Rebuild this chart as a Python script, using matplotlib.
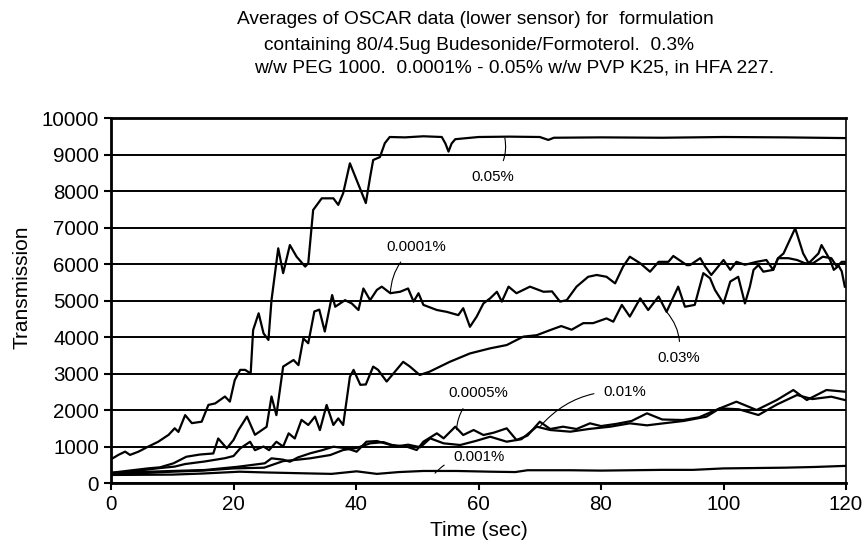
import matplotlib
matplotlib.use("Agg")
import matplotlib.pyplot as plt

# ── Data ──────────────────────────────────────────────────────────────────────
t_005 = [0, 1.2, 2.3, 3.1, 4.5, 6.1, 7.7, 9.4, 10.4, 11.0, 12.1, 13.2, 14.8, 15.9,
         17.0, 18.6, 19.4, 20.2, 21.1, 21.9, 22.8, 23.2, 24.1, 24.9, 25.7, 26.2,
         27.3, 28.1, 29.2, 30.3, 31.7, 32.2, 33.0, 34.4, 36.3, 37.1, 37.9, 39.0,
         40.1, 41.2, 41.6, 42.3, 42.8, 43.9, 44.7, 45.5, 48, 51, 54, 54.6, 55.1,
         55.6, 56.2, 60, 65, 70, 71.4, 72.3, 80, 90, 100, 110, 120]
v_005 = [650, 770, 860, 770, 860, 1000, 1130, 1320, 1500, 1400, 1860, 1640, 1680, 2140,
         2180, 2370, 2230, 2820, 3100, 3100, 3000, 4190, 4650, 4100, 3920, 5010,
         6430, 5750, 6520, 6200, 5930, 6020, 7480, 7800, 7800, 7620, 7940, 8760,
         8300, 7840, 7670, 8380, 8850, 8930, 9310, 9480, 9470, 9500, 9480, 9300, 9080,
         9300, 9420, 9480, 9490, 9480, 9400, 9460, 9470, 9460, 9480, 9470, 9450]

t_00001 = [0, 2, 4, 6, 8, 10.2, 12.3, 14.5, 16.7, 17.5, 18.9, 20.0, 20.8, 22.2, 23.5,
           25.4, 26.2, 27.0, 28.1, 29.8, 30.6, 31.4, 32.2, 33.2, 34.0, 34.9, 35.5,
           36.1, 36.6, 38.2, 39.3, 40.4, 41.2, 42.3, 43.4, 44.2, 45.6, 47.2, 48.5,
           49.4, 50.2, 51.0, 53.2, 54.8, 56.7, 57.5, 58.6, 59.7, 60.8, 61.9, 63.0,
           63.8, 64.9, 66.2, 68.4, 70.6, 72.0, 73.3, 74.4, 76.0, 77.9, 79.3, 80.9,
           82.3, 83.6, 84.7, 86.4, 88.0, 89.4, 91.0, 91.8, 94.0, 94.5, 96.2, 97.0,
           98.0, 100.0, 101.1, 102.1, 103.5, 105.4, 107.0, 108.1, 108.9, 110.6,
           112.0, 113.3, 114.6, 116.2, 117.6, 118.5, 119.3, 120]
v_00001 = [280, 320, 360, 400, 430, 540, 720, 780, 810, 1220, 950, 1180, 1450, 1820, 1320,
           1540, 2370, 1860, 3190, 3370, 3230, 3960, 3830, 4700, 4750, 4150, 4650,
           5150, 4830, 5010, 4920, 4740, 5330, 5010, 5290, 5380, 5200, 5240, 5330,
           4970, 5200, 4880, 4740, 4690, 4600, 4790, 4280, 4560, 4920, 5060, 5240,
           4970, 5380, 5200, 5380, 5240, 5250, 4970, 5010, 5380, 5650, 5700, 5650,
           5470, 5930, 6200, 6020, 5790, 6060, 6060, 6220, 5970, 5970, 6160, 5930,
           5700, 6110, 5840, 6060, 5980, 6060, 6110, 5840, 6160, 6160,
           6110, 6020, 6020, 6200, 6160, 5930, 6060, 6060]

t_003 = [0, 2, 4, 6, 8, 10.4, 12.1, 15.3, 18.6, 20.0, 21.1, 22.7, 23.5, 24.9, 25.8,
         27.0, 28.1, 29.0, 30.0, 31.1, 32.2, 33.3, 34.1, 35.2, 36.3, 37.1, 37.9,
         39.0, 39.6, 40.7, 41.6, 42.8, 43.6, 45.0, 46.6, 47.7, 48.8, 50.4, 52.0,
         55.3, 58.6, 61.9, 64.6, 67.3, 69.5, 71.7, 73.5, 75.2, 77.1, 78.7, 80.9,
         82.0, 83.4, 84.7, 86.4, 87.7, 89.4, 90.7, 92.6, 93.7, 95.3, 96.7, 97.8,
         98.6, 100.0, 101.1, 102.4, 103.5, 104.3, 104.9, 105.7, 106.5, 108.1,
         108.9, 109.8, 111.7, 113.0, 113.9, 115.5, 116.0, 117.4, 118.0, 118.8,
         119.3, 119.8]
v_003 = [250, 290, 330, 370, 410, 450, 520, 590, 680, 740, 950, 1130, 900, 1000, 900,
         1130, 1000, 1360, 1220, 1730, 1590, 1820, 1450, 2140, 1590, 1770, 1590,
         2910, 3100, 2690, 2700, 3190, 3100, 2780, 3100, 3320, 3190, 2960, 3050,
         3320, 3550, 3690, 3780, 4010, 4050, 4190, 4300, 4200, 4380, 4380, 4510,
         4420, 4880, 4560, 5060, 4740, 5110, 4690, 5380, 4830, 4880, 5750, 5610,
         5290, 4920, 5520, 5650, 4920, 5380, 5840, 5970, 5790, 5840,
         6160, 6290, 6980, 6290, 6020, 6290, 6520, 6110, 5840, 5950,
         5800, 5380]

t_00005 = [0, 4.5, 10, 15.3, 20.8, 25.1, 26.2, 28.1, 29.2, 30.5, 32.5, 34.5, 36.3,
           38.5, 40.1, 41.7, 43.4, 45.5, 48.3, 49.9, 51.0, 53.2, 54.3, 56.2, 57.5,
           59.2, 60.8, 62.5, 64.6, 66.2, 68.0, 70.0, 71.7, 73.8, 76.0, 78.2, 80.0,
           82.5, 85.0, 87.5, 90.0, 93.4, 96.0, 99.4, 102.1, 105.4, 108.7, 111.4,
           113.6, 116.8, 119.8]
v_00005 = [280, 300, 330, 356, 447, 540, 676, 640, 584, 700, 813, 900, 995,
           950, 858, 1132, 1150, 1050, 995, 904, 1132, 1361, 1224, 1543, 1315,
           1452, 1315, 1380, 1498, 1178, 1300, 1680, 1480, 1543, 1480, 1635, 1560,
           1620, 1700, 1909, 1740, 1726, 1800, 2046, 2228, 2000, 2274, 2548,
           2274, 2548, 2502]

t_001 = [0, 5, 10, 15, 20, 25, 28.1, 30.5, 32.5, 35.8, 37.9, 40.1, 42.3, 44.5, 46.5,
         48.5, 50.5, 52.1, 54.3, 57.0, 59.5, 61.9, 64.6, 67.0, 69.5, 71.7, 75.0,
         78.0, 81.5, 84.7, 87.5, 90.2, 93.5, 97.2, 99.4, 102.5, 105.7, 108.7,
         112.0, 114.5, 117.6, 119.8]
v_001 = [240, 270, 310, 340, 400, 420, 600, 640, 676, 767, 904, 960, 1087, 1120, 1000,
         1050, 980, 1224, 1087, 1041, 1150, 1269, 1132, 1200, 1543, 1452, 1406,
         1480, 1543, 1635, 1580, 1635, 1700, 1817, 2046, 2020, 1863, 2150,
         2411, 2300, 2365, 2274]

t_0001 = [0, 10, 15, 21, 25, 31.7, 36, 40.1, 43.4, 47, 51, 56.4, 62, 66, 68, 75,
          80, 90, 95, 100, 105, 110, 115, 120]
v_0001 = [220, 230, 260, 310, 290, 265, 250, 320, 250, 300, 330, 330, 310, 300, 350,
          350, 340, 360, 360, 400, 410, 420, 440, 470]

series = [(t_005, v_005), (t_00001, v_00001), (t_003, v_003),
          (t_00005, v_00005), (t_001, v_001), (t_0001, v_0001)]

# label text, label position (t, v), point on the curve
labels = [
    ("0.05%", (62.4, 8390), (64.3, 9450)),
    ("0.0001%", (49.9, 6470), (45.6, 5200)),
    ("0.03%", (92.6, 3420), (90.7, 4690)),
    ("0.0005%", (60.0, 2460), (56.4, 1460)),
    ("0.01%", (83.9, 2500), (70.0, 1540)),
    ("0.001%", (60.0, 720), (52.9, 270)),
]

FONT = ['Liberation Sans', 'DejaVu Sans']

fig = plt.figure(figsize=(8.64, 5.5), dpi=100)
ax = fig.add_axes([0.1285, 0.1218, 0.8507, 0.6636])

for t, v in series:
    ax.plot(t, v, color='black', lw=1.6, solid_joinstyle='round')

for txt, xy_txt, xy_pt in labels:
    ax.annotate(txt, xy=xy_pt, xytext=xy_txt, ha='center', va='center',
                fontsize=10.8, family=FONT,
                arrowprops=dict(arrowstyle='-', lw=0.8, color='black',
                                connectionstyle='arc3,rad=0.25', shrinkA=5, shrinkB=0))

ax.set_xlim(0, 120)
ax.set_ylim(0, 10000)
ax.set_xticks(range(0, 121, 20))
ax.set_yticks(range(0, 10001, 1000))
ax.grid(axis='y', color='black', lw=1.4)
ax.set_axisbelow(True)
for side in ['left', 'bottom', 'top']:
    ax.spines[side].set_linewidth(2.0)
ax.spines['right'].set_linewidth(1.2)
ax.tick_params(axis='both', direction='out', length=5, width=1.5, labelsize=14.8)
for lab in ax.get_xticklabels() + ax.get_yticklabels():
    lab.set_family(FONT)

ax.set_xlabel('Time (sec)', fontsize=15, family=FONT)
ax.set_ylabel('Transmission', fontsize=15, family=FONT)
ax.xaxis.set_label_coords(0.5, -0.103)
ax.yaxis.set_label_coords(-0.108, 0.536)

title_lines = [
    (237, 20, "Averages of OSCAR data (lower sensor) for  formulation"),
    (264, 45, "containing 80/4.5ug Budesonide/Formoterol.  0.3%"),
    (254, 68, "w/w PEG 1000.  0.0001% - 0.05% w/w PVP K25, in HFA 227."),
]
for px, py, txt in title_lines:
    fig.text(px / 864, 1 - py / 550, txt, ha='left', va='center',
             fontsize=13.8, family=FONT)

fig.savefig('out.png', dpi=100)
